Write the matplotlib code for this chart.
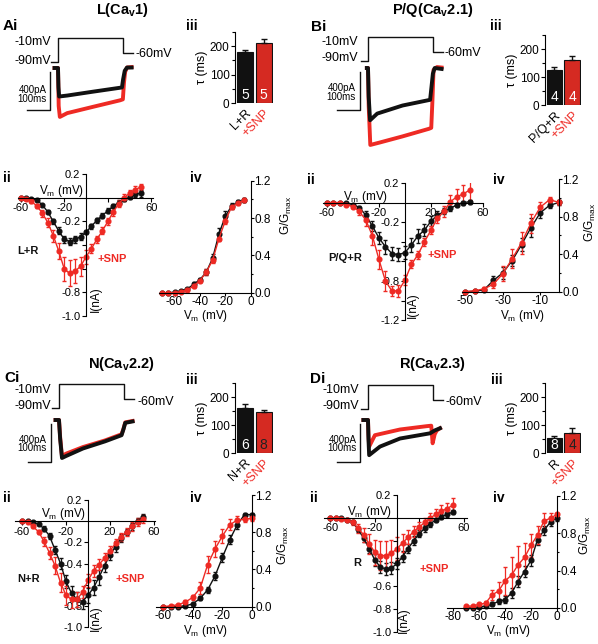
import numpy as np
import matplotlib
matplotlib.use('Agg')
import matplotlib.pyplot as plt

plt.rcParams['font.family'] = ['Liberation Sans', 'DejaVu Sans']
plt.rcParams['mathtext.fontset'] = 'custom'
plt.rcParams['mathtext.rm'] = 'Liberation Sans'
plt.rcParams['mathtext.it'] = 'Liberation Sans:italic'
plt.rcParams['mathtext.bf'] = 'Liberation Sans:bold'

RED = '#ee2a24'
BAR_RED = '#d52a22'
BLK = '#111111'

# ---------------- data ----------------
# voltage protocol (ms, mV)
step_t = [-30, 0, 0, 283, 283, 326]
step_v = [-90, -90, -10, -10, -60, -60]

# current traces (ms, pA)
A_blk_t = [-15, 0, 2, 5, 40, 150, 278, 283, 290, 300, 320]
A_blk_i = [0, 0, -200, -300, -290, -250, -205, -120, -30, 5, 5]
A_red_t = [-15, 0, 3, 8, 40, 150, 270, 282, 287, 292, 300, 320]
A_red_i = [0, 0, -400, -515, -475, -410, -340, -330, -150, -40, 5, 10]

B_blk_t = [-5, 0, 3, 9, 40, 150, 270, 276, 282, 290, 320]
B_blk_i = [0, 0, -300, -550, -480, -395, -335, -200, -60, 0, -10]
B_red_t = [-5, 0, 3, 10, 50, 150, 265, 275, 280, 285, 300, 320]
B_red_i = [0, 0, -400, -810, -785, -720, -640, -630, -350, -20, 10, 5]

C_blk_t = [-15, 0, 5, 13, 30, 104, 200, 272, 280, 288, 320]
C_blk_i = [0, 0, -200, -400, -380, -300, -225, -160, -100, -30, -15]
C_red_t = [-15, 0, 5, 13, 30, 104, 200, 272, 280, 288, 320]
C_red_i = [0, 0, -180, -385, -355, -285, -215, -150, -95, -25, -10]

D_blk_t = [-20, 0, 2, 5, 52, 139, 270, 290, 313]
D_blk_i = [0, 0, -200, -370, -280, -195, -140, -110, -87]
D_red_t = [-20, 0, 2, 5, 30, 139, 255, 275, 281, 290, 299, 313]
D_red_i = [0, 0, -150, -280, -160, -100, -65, -60, -245, -150, -110, -87]

# I-V relations (mV, nA)
iv_v = list(range(-60, 55, 5))
A_iv_blk = [0, -0.003, -0.01, -0.02, -0.06, -0.12, -0.2, -0.28, -0.35, -0.37, -0.35, -0.33,
            -0.29, -0.24, -0.19, -0.15, -0.11, -0.07, -0.04, -0.01, 0.01, 0.03, 0.04]
A_iv_blk_e = [0, 0.002, 0.005, 0.01, 0.01, 0.02, 0.02, 0.03, 0.03, 0.03, 0.03, 0.03,
              0.02, 0.02, 0.02, 0.02, 0.02, 0.02, 0.02, 0.02, 0.02, 0.02, 0.03]
A_iv_red = [0, -0.01, -0.03, -0.07, -0.13, -0.21, -0.32, -0.45, -0.6, -0.64, -0.62, -0.58,
            -0.5, -0.43, -0.35, -0.28, -0.2, -0.12, -0.05, 0.0, 0.04, 0.07, 0.09]
A_iv_red_e = [0.005, 0.005, 0.01, 0.02, 0.03, 0.04, 0.05, 0.07, 0.1, 0.11, 0.1, 0.08,
              0.06, 0.04, 0.03, 0.03, 0.03, 0.03, 0.03, 0.03, 0.03, 0.03, 0.03]

B_iv_blk = [0, 0, 0, -0.005, -0.02, -0.05, -0.13, -0.24, -0.36, -0.45, -0.52, -0.53,
            -0.51, -0.43, -0.34, -0.28, -0.19, -0.13, -0.09, -0.06, -0.02, 0.0, 0.01]
B_iv_blk_e = [0, 0, 0, 0.005, 0.01, 0.02, 0.04, 0.05, 0.06, 0.07, 0.07, 0.07,
              0.07, 0.07, 0.07, 0.06, 0.05, 0.04, 0.03, 0.03, 0.02, 0.02, 0.02]
B_iv_red = [0, 0, 0, -0.02, -0.04, -0.09, -0.18, -0.34, -0.58, -0.8, -0.9, -0.9,
            -0.79, -0.63, -0.53, -0.4, -0.28, -0.16, -0.09, 0.01, 0.06, 0.09, 0.13]
B_iv_red_e = [0, 0, 0, 0.01, 0.02, 0.04, 0.06, 0.09, 0.1, 0.1, 0.05, 0.06,
              0.05, 0.04, 0.04, 0.04, 0.04, 0.05, 0.06, 0.07, 0.08, 0.09, 0.1]

C_iv_blk = [0, 0, -0.01, -0.03, -0.07, -0.14, -0.27, -0.4, -0.57, -0.68, -0.74, -0.76,
            -0.7, -0.63, -0.53, -0.42, -0.32, -0.24, -0.16, -0.1, -0.05, 0.0, 0.04]
C_iv_blk_e = [0, 0, 0.005, 0.01, 0.02, 0.03, 0.04, 0.05, 0.06, 0.07, 0.07, 0.07,
              0.07, 0.07, 0.07, 0.06, 0.05, 0.05, 0.04, 0.03, 0.03, 0.03, 0.03]
C_iv_red = [0, -0.01, -0.05, -0.1, -0.19, -0.3, -0.42, -0.58, -0.7, -0.74, -0.74, -0.67,
            -0.56, -0.47, -0.41, -0.35, -0.28, -0.21, -0.15, -0.1, -0.05, -0.01, 0.02]
C_iv_red_e = [0, 0.005, 0.01, 0.02, 0.04, 0.06, 0.08, 0.09, 0.09, 0.08, 0.07, 0.06,
              0.06, 0.06, 0.05, 0.05, 0.05, 0.04, 0.04, 0.04, 0.04, 0.04, 0.04]

D_iv_blk = [0, 0, -0.005, -0.015, -0.04, -0.1, -0.18, -0.27, -0.37, -0.43, -0.45, -0.44,
            -0.4, -0.34, -0.27, -0.2, -0.14, -0.09, -0.05, -0.02, 0.01, 0.03, 0.05]
D_iv_blk_e = [0, 0, 0.005, 0.01, 0.01, 0.02, 0.03, 0.04, 0.05, 0.05, 0.05, 0.05,
              0.05, 0.05, 0.04, 0.04, 0.03, 0.03, 0.03, 0.02, 0.02, 0.02, 0.02]
D_iv_red = [0, -0.005, -0.01, -0.02, -0.04, -0.09, -0.15, -0.23, -0.3, -0.33, -0.33, -0.31,
            -0.27, -0.22, -0.17, -0.12, -0.08, -0.04, 0.0, 0.03, 0.06, 0.08, 0.11]
D_iv_red_e = [0, 0.005, 0.01, 0.01, 0.02, 0.04, 0.06, 0.09, 0.11, 0.13, 0.13, 0.12,
              0.1, 0.08, 0.06, 0.05, 0.04, 0.04, 0.04, 0.05, 0.05, 0.05, 0.06]

# activation curves G/Gmax
A_g_v = list(range(-70, 0, 5))
A_g_blk = [0.0, 0.0, 0.005, 0.02, 0.04, 0.09, 0.14, 0.22, 0.37, 0.63, 0.82, 0.93, 0.97, 0.99]
A_g_blk_e = [0, 0, 0.005, 0.01, 0.01, 0.02, 0.02, 0.03, 0.04, 0.06, 0.06, 0.03, 0.02, 0.02]
A_g_red = [0.0, 0.0, 0.0, 0.01, 0.03, 0.07, 0.13, 0.22, 0.35, 0.58, 0.77, 0.92, 0.96, 0.99]
A_g_red_e = [0, 0, 0, 0.005, 0.01, 0.02, 0.02, 0.03, 0.03, 0.03, 0.03, 0.02, 0.02, 0.02]

B_g_v = list(range(-50, 5, 5))
B_g_blk = [0.0, 0.005, 0.02, 0.12, 0.2, 0.33, 0.5, 0.68, 0.84, 0.92, 0.95]
B_g_blk_e = [0, 0.005, 0.01, 0.05, 0.06, 0.06, 0.07, 0.1, 0.06, 0.03, 0.03]
B_g_red = [0.0, 0.01, 0.03, 0.08, 0.19, 0.35, 0.52, 0.73, 0.9, 0.98, 0.95]
B_g_red_e = [0, 0.01, 0.02, 0.04, 0.08, 0.1, 0.12, 0.1, 0.05, 0.03, 0.03]

C_g_v = list(range(-60, 5, 5))
C_g_blk = [0.0, 0.0, 0.0, 0.01, 0.03, 0.09, 0.18, 0.33, 0.53, 0.72, 0.88, 0.99, 0.99]
C_g_blk_e = [0, 0, 0, 0.005, 0.01, 0.02, 0.03, 0.04, 0.05, 0.05, 0.04, 0.02, 0.02]
C_g_red = [0.0, 0.01, 0.02, 0.05, 0.1, 0.2, 0.45, 0.62, 0.76, 0.88, 0.93, 0.94, 0.95]
C_g_red_e = [0, 0.005, 0.01, 0.02, 0.03, 0.06, 0.09, 0.09, 0.08, 0.06, 0.04, 0.03, 0.03]

D_g_v = list(range(-70, 5, 5))
D_g_blk = [0.0, 0.0, 0.01, 0.02, 0.04, 0.07, 0.09, 0.16, 0.28, 0.39, 0.51, 0.73, 0.83, 0.92, 0.96]
D_g_blk_e = [0, 0, 0, 0.01, 0.02, 0.03, 0.04, 0.05, 0.06, 0.06, 0.06, 0.06, 0.05, 0.04, 0.03]
D_g_red = [0.02, 0.02, 0.04, 0.05, 0.14, 0.18, 0.29, 0.35, 0.46, 0.54, 0.67, 0.78, 0.93, 0.96, 1.0]
D_g_red_e = [0, 0, 0.01, 0.02, 0.05, 0.1, 0.15, 0.2, 0.2, 0.15, 0.12, 0.1, 0.08, 0.05, 0.02]

# inactivation time constants (ms)
A_tau = [178, 210]; A_tau_e = [10, 15]; A_n = [5, 5]; A_names = ['L+R', '+SNP']
B_tau = [125, 160]; B_tau_e = [10, 16]; B_n = [4, 4]; B_names = ['P/Q+R', '+SNP']
C_tau = [162, 148]; C_tau_e = [12, 7]; C_n = [6, 8]; C_names = ['N+R', '+SNP']
D_tau = [55, 72]; D_tau_e = [5, 18]; D_n = [8, 4]; D_names = ['R', '+SNP']

# ---------------- figure ----------------
W, H = 598, 644
fig = plt.figure(figsize=(W / 100, H / 100), dpi=100)


def add_ax(x0, y0, x1, y1):
    ax = fig.add_axes([x0 / W, 1 - y1 / H, (x1 - x0) / W, (y1 - y0) / H])
    ax.patch.set_visible(False)
    return ax


def ftext(x, y, s, **kw):
    kw.setdefault('va', 'center')
    fig.text(x / W, 1 - y / H, s, **kw)


def protocol(t0x, base_y):
    # 0.23 px per ms, 0.3 px per mV
    ax = add_ax(t0x - 40 * 0.23, base_y - 85 * 0.3, t0x + 340 * 0.23, base_y + 5 * 0.3)
    ax.set_xlim(-40, 340)
    ax.set_ylim(-95, -5)
    ax.plot(step_t, step_v, color=BLK, lw=1)
    ax.axis('off')


def traces(t0x, base_y, bt, bi, rt, ri):
    # 0.23 px per ms, 0.095 px per pA
    ax = add_ax(t0x - 150 * 0.23, base_y - 60 * 0.095, t0x + 340 * 0.23, base_y + 900 * 0.095)
    ax.set_xlim(-150, 340)
    ax.set_ylim(-900, 60)
    ax.plot(rt, ri, color=RED, lw=2.8, solid_joinstyle='round')
    ax.plot(bt, bi, color=BLK, lw=2.8, solid_joinstyle='round')
    # scale bar 400 pA / 100 ms
    ax.plot([-135, -35, -35], [-440, -440, -40], color=BLK, lw=1)
    ax.axis('off')


def bars(box, vals, errs, ns, names, ncols):
    ax = add_ax(*box)
    ax.bar([0, 1], vals, width=0.86, color=[BLK, BAR_RED], edgecolor=BLK, lw=0.8,
           yerr=[[0, 0], errs], error_kw=dict(ecolor=BLK, elinewidth=1, capsize=2))
    ax.set_xlim(-0.54, 1.51)
    ax.set_ylim(0, 250)
    for s in ['top', 'right', 'bottom']:
        ax.spines[s].set_visible(False)
    ax.set_yticks([0, 100, 200])
    ax.set_yticks([50, 150, 250], minor=True)
    ax.tick_params(axis='y', which='both', direction='out', length=3, width=0.8, labelsize=8.5, pad=1)
    ax.tick_params(axis='y', which='minor', length=2)
    ax.set_xticks([0, 1])
    ax.set_xticklabels(names, rotation=45, ha='right', rotation_mode='anchor', fontsize=9)
    ax.get_xticklabels()[1].set_color(RED)
    ax.tick_params(axis='x', length=0, pad=3)
    for i in range(2):
        ax.text(i, 3, str(ns[i]), ha='center', va='bottom', color=ncols[i], fontsize=10)
    ax.set_ylabel('τ (ms)', fontsize=9, labelpad=1)
    return ax


def iv(box, xlim, ylim, xt, xtl, yt, ytl, bi, be, ri, re_):
    ax = add_ax(*box)
    ax.errorbar(iv_v, bi, yerr=be, color=BLK, marker='o', ms=3.4, lw=1, elinewidth=0.9, capsize=1.5)
    ax.errorbar(iv_v, ri, yerr=re_, color=RED, marker='o', ms=3.4, lw=1, elinewidth=0.9, capsize=1.5)
    ax.set_xlim(xlim)
    ax.set_ylim(ylim)
    ax.spines['left'].set_position(('data', 0))
    ax.spines['bottom'].set_position(('data', 0))
    ax.spines['top'].set_visible(False)
    ax.spines['right'].set_visible(False)
    ax.set_xticks(xt)
    ax.set_xticklabels(xtl)
    ax.set_yticks(yt)
    ax.set_yticklabels(ytl)
    ax.tick_params(direction='out', length=3, width=0.8, labelsize=8, pad=1)
    return ax


def act(box, xlim, xt, gv, bg, be, rg, re_):
    ax = add_ax(*box)
    ax.errorbar(gv, bg, yerr=be, color=BLK, marker='o', ms=3.4, lw=1, elinewidth=0.9, capsize=1.5,
                clip_on=False)
    ax.errorbar(gv, rg, yerr=re_, color=RED, marker='o', ms=3.4, lw=1, elinewidth=0.9, capsize=1.5,
                clip_on=False)
    ax.set_xlim(xlim)
    ax.set_ylim(0, 1.2)
    ax.spines['top'].set_visible(False)
    ax.spines['left'].set_visible(False)
    ax.yaxis.tick_right()
    ax.set_yticks([0, 0.4, 0.8, 1.2])
    ax.set_yticklabels(['0.0', '0.4', '0.8', '1.2'])
    ax.set_yticks([0.2, 0.6, 1.0], minor=True)
    ax.set_xticks(xt)
    ax.set_xticklabels([str(v) for v in xt])
    ax.tick_params(which='both', direction='out', length=2, width=0.8, labelsize=8.5, pad=0.5)
    ax.tick_params(which='minor', length=1.5)
    return ax


TITLE = dict(fontsize=10.5, fontweight='bold', ha='center')
LET = dict(fontsize=11, fontweight='bold', ha='left')
SUB = dict(fontsize=10, fontweight='bold', ha='left')
PROT = dict(fontsize=9)
SCL = dict(fontsize=7, ha='right', multialignment='right', linespacing=0.85)
SCALE_TXT = '400pA\n100ms'
VM = r'V$_{\rm m}$ (mV)'
GG = r'G/G$_{\rm max}$'

# ======== A: L(Cav1) ========
ftext(122, 10, r'L(Ca$_{\mathbf{v}}$1)', **TITLE)
ftext(3, 26, 'Ai', **LET)
protocol(58, 62)
ftext(51, 42, '-10mV', ha='right', **PROT)
ftext(51, 61, '-90mV', ha='right', **PROT)
ftext(136, 54, '-60mV', ha='left', **PROT)
traces(58, 68, A_blk_t, A_blk_i, A_red_t, A_red_i)
ftext(47, 94.5, SCALE_TXT, **SCL)
ftext(186, 26, 'iii', **SUB)
bars((235, 32, 273, 103), A_tau, A_tau_e, A_n, A_names, ['white', 'white'])

ftext(3, 178, 'ii', **SUB)
iv((18.4, 174.2, 152.5, 316), (-62, 61), (-1.0, 0.2), [-60, -20, 20, 60], ['-60', '-20', '', '60'],
   [0.2, -0.2, -0.4, -0.6, -0.8, -1.0], ['0.2', '-0.2', '', '', '-0.8', '-1.0'],
   A_iv_blk, A_iv_blk_e, A_iv_red, A_iv_red_e)
ftext(62, 191, VM, ha='center', fontsize=8.5)
ftext(96, 299, 'I(nA)', ha='center', rotation=90, fontsize=8.5)
ftext(17, 251, 'L+R', ha='left', fontsize=8, fontweight='bold', color=BLK)
ftext(97, 259, '+SNP', ha='left', fontsize=8, fontweight='bold', color=RED)
ftext(190, 178, 'iv', **SUB)
act((159.3, 180.7, 250.7, 292.7), (-72, 0), [-60, -40, -20, 0],
    A_g_v, A_g_blk, A_g_blk_e, A_g_red, A_g_red_e)
ftext(206, 316, VM, ha='center', fontsize=8.5)
ftext(286, 215, GG, ha='center', rotation=90, fontsize=8.5)

# ======== B: P/Q(Cav2.1) ========
ftext(433, 10, r'P/Q(Ca$_{\mathbf{v}}$2.1)', **TITLE)
ftext(311, 27, 'Bi', **LET)
protocol(368, 61)
ftext(358, 42, '-10mV', ha='right', **PROT)
ftext(358, 58, '-90mV', ha='right', **PROT)
ftext(445, 53, '-60mV', ha='left', **PROT)
traces(368, 68, B_blk_t, B_blk_i, B_red_t, B_red_i)
ftext(356, 92.5, SCALE_TXT, **SCL)
ftext(490, 26, 'iii', **SUB)
bars((545, 35, 581, 105), B_tau, B_tau_e, B_n, B_names, ['white', 'white'])

ftext(307, 180, 'ii', **SUB)
iv((323, 183, 483, 320.3), (-63, 60), (-1.2, 0.2), [-60, -20, 20, 60], ['-60', '-20', '20', '60'],
   [0.2, -0.2, -0.4, -0.6, -0.8, -1.0, -1.2], ['0.2', '-0.2', '', '', '-0.8', '', '-1.2'],
   B_iv_blk, B_iv_blk_e, B_iv_red, B_iv_red_e)
ftext(366, 197, VM, ha='center', fontsize=8.5)
ftext(413, 305, 'I(nA)', ha='center', rotation=90, fontsize=8.5)
ftext(328, 258, 'P/Q+R', ha='left', fontsize=8, fontweight='bold', color=BLK)
ftext(428, 255, '+SNP', ha='left', fontsize=8, fontweight='bold', color=RED)
ftext(493, 180, 'iv', **SUB)
act((461.5, 179, 559, 291.7), (-52, 0), [-50, -30, -10],
    B_g_v, B_g_blk, B_g_blk_e, B_g_red, B_g_red_e)
ftext(523, 316, VM, ha='center', fontsize=8.5)
ftext(590, 222, GG, ha='center', rotation=90, fontsize=8.5)

# ======== C: N(Cav2.2) ========
ftext(121, 364, r'N(Ca$_{\mathbf{v}}$2.2)', **TITLE)
ftext(4, 378, 'Ci', **LET)
protocol(59, 408)
ftext(51, 390, '-10mV', ha='right', **PROT)
ftext(51, 406, '-90mV', ha='right', **PROT)
ftext(137, 402, '-60mV', ha='left', **PROT)
traces(59, 420, C_blk_t, C_blk_i, C_red_t, C_red_i)
ftext(47, 444, SCALE_TXT, **SCL)
ftext(186, 380, 'iii', **SUB)
bars((235, 383, 273, 453), C_tau, C_tau_e, C_n, C_names, ['white', '#222222'])

ftext(3, 498, 'ii', **SUB)
iv((15.4, 500, 155.1, 627), (-66, 61), (-1.0, 0.2), [-60, -20, 20, 60], ['-60', '-20', '20', '60'],
   [0.2, -0.2, -0.4, -0.6, -0.8, -1.0], ['0.2', '-0.2', '-0.4', '', '-0.8', '-1.0'],
   C_iv_blk, C_iv_blk_e, C_iv_red, C_iv_red_e)
ftext(64, 514, VM, ha='center', fontsize=8.5)
ftext(96, 618, 'I(nA)', ha='center', rotation=90, fontsize=8.5)
ftext(17, 579, 'N+R', ha='left', fontsize=8, fontweight='bold', color=BLK)
ftext(115, 579, '+SNP', ha='left', fontsize=8, fontweight='bold', color=RED)
ftext(190, 498, 'iv', **SUB)
act((155.8, 495, 252, 606.7), (-65, 0), [-60, -40, -20, 0],
    C_g_v, C_g_blk, C_g_blk_e, C_g_red, C_g_red_e)
ftext(206, 631, VM, ha='center', fontsize=8.5)
ftext(283, 545, GG, ha='center', rotation=90, fontsize=8.5)

# ======== D: R(Cav2.3) ========
ftext(432, 364, r'R(Ca$_{\mathbf{v}}$2.3)', **TITLE)
ftext(310, 379, 'Di', **LET)
protocol(368, 409)
ftext(359, 390, '-10mV', ha='right', **PROT)
ftext(359, 406, '-90mV', ha='right', **PROT)
ftext(446, 402, '-60mV', ha='left', **PROT)
traces(368, 420, D_blk_t, D_blk_i, D_red_t, D_red_i)
ftext(357, 444, SCALE_TXT, **SCL)
ftext(491, 380, 'iii', **SUB)
bars((545, 383, 581, 453), D_tau, D_tau_e, D_n, D_names, ['white', '#222222'])

ftext(310, 498, 'ii', **SUB)
iv((323.7, 495, 467, 632), (-66, 63), (-1.0, 0.2), [-60, -20, 20, 60], ['-60', '-20', '', '60'],
   [0.2, -0.2, -0.4, -0.6, -0.8, -1.0], ['0.2', '', '', '-0.6', '-0.8', '-1.0'],
   D_iv_blk, D_iv_blk_e, D_iv_red, D_iv_red_e)
ftext(370, 512, VM, ha='center', fontsize=8.5)
ftext(404, 620, 'I(nA)', ha='center', rotation=90, fontsize=8.5)
ftext(353, 563, 'R', ha='left', fontsize=8, fontweight='bold', color=BLK)
ftext(420, 569, '+SNP', ha='left', fontsize=8, fontweight='bold', color=RED)
ftext(493, 498, 'iv', **SUB)
act((446.5, 495.7, 557, 608), (-85, 0), [-80, -60, -40, -20, 0],
    D_g_v, D_g_blk, D_g_blk_e, D_g_red, D_g_red_e)
ftext(509, 631, VM, ha='center', fontsize=8.5)
ftext(585, 535, GG, ha='center', rotation=90, fontsize=8.5)

fig.savefig('out.png', dpi=100)
